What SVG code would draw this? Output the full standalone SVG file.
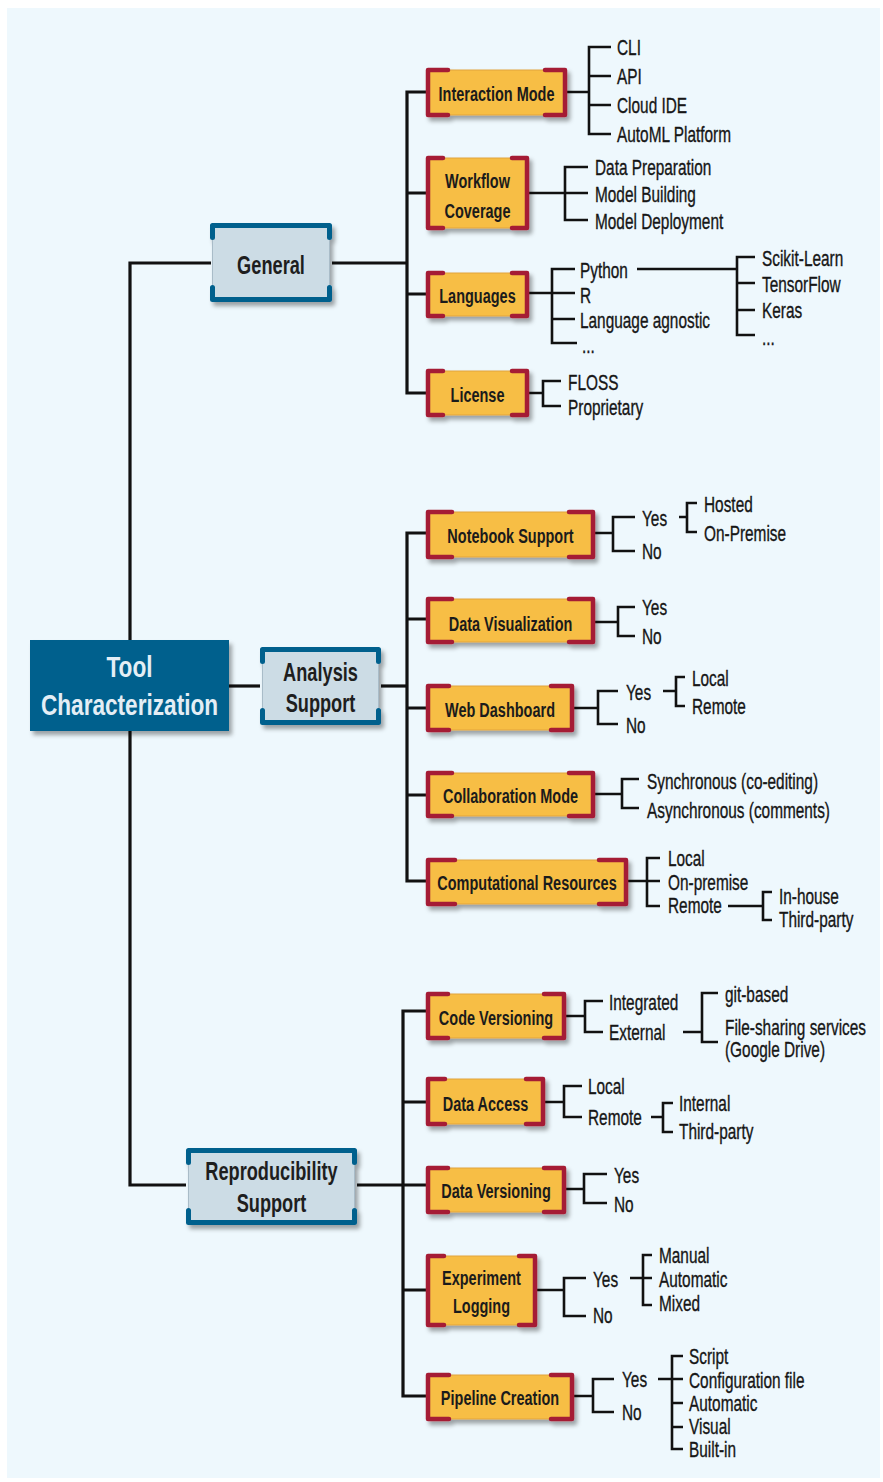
<svg xmlns="http://www.w3.org/2000/svg" width="883" height="1482" viewBox="0 0 883 1482">
<defs>
<filter id="sh" x="-10%" y="-10%" width="130%" height="140%">
<feDropShadow dx="3" dy="4" stdDeviation="2" flood-color="#000" flood-opacity="0.35"/>
</filter>
<style>
text{font-family:"Liberation Sans",Arial,sans-serif}
.lf{font-size:22px;fill:#161616;stroke:#161616;stroke-width:0.35}
.on{font-size:21px;font-weight:bold;fill:#1b1b1b;text-anchor:middle}
.tp{font-size:26px;font-weight:bold;fill:#1e1e1e;text-anchor:middle}
.rt{font-size:29px;font-weight:bold;fill:#E4EEF5;text-anchor:middle}
.con path{fill:none;stroke:#111;stroke-width:2.6}
.con .m{stroke-width:3.2}
.ob{fill:#F7BE45;stroke:#E2A43E;stroke-width:1}
.or{fill:none;stroke:#A51D35;stroke-width:4.5;stroke-linejoin:round;stroke-linecap:round}
.bb{fill:#CCDCE5;stroke:#A9BCC8;stroke-width:1}
.bl{fill:none;stroke:#00608D;stroke-width:5;stroke-linecap:round;stroke-linejoin:round}
</style>
</defs>
<rect x="7" y="8" width="873" height="1470" fill="#EEF8FD"/>

<g id="connectors" class="con">
<path class="m" d="M211,263H130V1185H186"/>
<path class="m" d="M229,686H260"/>
<path class="m" d="M332,263H407"/>
<path class="m" d="M427,92H407V393H427M407,193H427M407,294H427"/>
<path d="M567,92H589M611,47H589V134H611M589,76H611M589,105H611"/>
<path d="M529,193H565M588,167H565V220H588M565,193H588"/>
<path d="M529,293H552M575,269H552V343H577M552,293H575M552,319H575"/>
<path d="M637,269H737M755,257H737V335H755M737,283H755M737,310H755"/>
<path d="M529,393H543M561,381H543V406H561"/>

<path class="m" d="M381,686H407"/>
<path class="m" d="M427,533H407V881H427M407,619H427M407,708H427M407,795H427"/>
<path d="M595,533H613M635,517H613V551H635"/>
<path d="M679,517H687M697,503H687V532H697"/>
<path d="M595,622H618M635,607H618V636H635"/>
<path d="M574,708H598M618,691H598V724H618"/>
<path d="M663,691H676M685,677H676V706H685"/>
<path d="M595,794H622M639,779H622V808H639"/>
<path d="M624,881H647M660,858H647V906H660M647,881H660"/>
<path d="M728,906H763M772,892H763V920H772"/>

<path class="m" d="M357,1185H427"/>
<path class="m" d="M427,1011H403V1396H427M403,1102H427M403,1290H427"/>
<path d="M566,1016H585M603,1001H585V1032H603"/>
<path d="M683,1032H702M718,993H702V1042H718"/>
<path d="M545,1102H564M582,1086H564V1117H582"/>
<path d="M651,1117H663M673,1103H663V1132H673"/>
<path d="M566,1189H584M607,1174H584V1203H607"/>
<path d="M537,1290H564M586,1278H564V1316H586"/>
<path d="M630,1278H643M652,1255H643V1305H652M643,1278H652"/>
<path d="M574,1396H593M614,1379H593V1412H614"/>
<path d="M658,1379H672M683,1356H672V1449H683M672,1379H683M672,1403H683M672,1427H683"/>
</g>

<g id="root">
<rect x="30" y="640" width="199" height="91" fill="#00608D" filter="url(#sh)"/>
<text class="rt" transform="translate(129.5,677) scale(.78,1)">Tool</text>
<text class="rt" transform="translate(129.5,715) scale(.78,1)">Characterization</text>
</g>

<g id="general">
<g filter="url(#sh)"><rect class="bb" x="212.5" y="225.5" width="117" height="74"/>
<path class="bl" d="M212.5,237.5V225.5H329.5V237.5M212.5,287.5V299.5H329.5V287.5"/></g>
<text class="tp" transform="translate(271,274) scale(.70,1)">General</text>
</g>

<g id="analysis">
<g filter="url(#sh)"><rect class="bb" x="262.5" y="649.5" width="116" height="73"/>
<path class="bl" d="M262.5,661.5V649.5H378.5V661.5M262.5,710.5V722.5H378.5V710.5"/></g>
<text class="tp" transform="translate(320.5,681) scale(.70,1)">Analysis</text>
<text class="tp" transform="translate(320.5,712) scale(.70,1)">Support</text>
</g>

<g id="reproducibility">
<g filter="url(#sh)"><rect class="bb" x="188.5" y="1150.5" width="166" height="72"/>
<path class="bl" d="M188.5,1162.5V1150.5H354.5V1162.5M188.5,1210.5V1222.5H354.5V1210.5"/></g>
<text class="tp" transform="translate(271.5,1180) scale(.70,1)">Reproducibility</text>
<text class="tp" transform="translate(271.5,1212) scale(.70,1)">Support</text>
</g>

<g id="interaction-mode">
<g filter="url(#sh)"><rect class="ob" x="428" y="70" width="137" height="45"/>
<path class="or" d="M448,70H428V115H448M545,70H565V115H545"/></g>
<text class="on" transform="translate(496.5,101) scale(.69,1)">Interaction Mode</text>
<text class="lf" transform="translate(617,55) scale(.70,1)">CLI</text>
<text class="lf" transform="translate(617,84) scale(.70,1)">API</text>
<text class="lf" transform="translate(617,113) scale(.70,1)">Cloud IDE</text>
<text class="lf" transform="translate(617,142) scale(.70,1)">AutoML Platform</text>
</g>

<g id="workflow-coverage">
<g filter="url(#sh)"><rect class="ob" x="428" y="158" width="99" height="70"/>
<path class="or" d="M443,158H428V228H443M512,158H527V228H512"/></g>
<text class="on" transform="translate(477.5,188) scale(.69,1)">Workflow</text>
<text class="on" transform="translate(477.5,218) scale(.69,1)">Coverage</text>
<text class="lf" transform="translate(595,175) scale(.70,1)">Data Preparation</text>
<text class="lf" transform="translate(595,202) scale(.70,1)">Model Building</text>
<text class="lf" transform="translate(595,229) scale(.70,1)">Model Deployment</text>
</g>

<g id="languages">
<g filter="url(#sh)"><rect class="ob" x="428" y="273" width="99" height="43"/>
<path class="or" d="M443,273H428V316H443M512,273H527V316H512"/></g>
<text class="on" transform="translate(477.5,303) scale(.69,1)">Languages</text>
<text class="lf" transform="translate(580,278) scale(.70,1)">Python</text>
<text class="lf" transform="translate(580,303) scale(.70,1)">R</text>
<text class="lf" transform="translate(580,328) scale(.70,1)">Language agnostic</text>
<text class="lf" transform="translate(582,353) scale(.70,1)">...</text>
<text class="lf" transform="translate(762,266) scale(.70,1)">Scikit-Learn</text>
<text class="lf" transform="translate(762,292) scale(.70,1)">TensorFlow</text>
<text class="lf" transform="translate(762,318) scale(.70,1)">Keras</text>
<text class="lf" transform="translate(762,345) scale(.70,1)">...</text>
</g>

<g id="license">
<g filter="url(#sh)"><rect class="ob" x="428" y="371" width="99" height="44"/>
<path class="or" d="M443,371H428V415H443M512,371H527V415H512"/></g>
<text class="on" transform="translate(477.5,402) scale(.69,1)">License</text>
<text class="lf" transform="translate(568,390) scale(.70,1)">FLOSS</text>
<text class="lf" transform="translate(568,415) scale(.70,1)">Proprietary</text>
</g>

<g id="notebook-support">
<g filter="url(#sh)"><rect class="ob" x="428" y="512" width="165" height="45"/>
<path class="or" d="M452,512H428V557H452M569,512H593V557H569"/></g>
<text class="on" transform="translate(510.5,543) scale(.69,1)">Notebook Support</text>
<text class="lf" transform="translate(642,526) scale(.70,1)">Yes</text>
<text class="lf" transform="translate(642,559) scale(.70,1)">No</text>
<text class="lf" transform="translate(704,512) scale(.70,1)">Hosted</text>
<text class="lf" transform="translate(704,541) scale(.70,1)">On-Premise</text>
</g>

<g id="data-visualization">
<g filter="url(#sh)"><rect class="ob" x="428" y="599" width="165" height="43"/>
<path class="or" d="M452,599H428V642H452M569,599H593V642H569"/></g>
<text class="on" transform="translate(510.5,631) scale(.69,1)">Data Visualization</text>
<text class="lf" transform="translate(642,615) scale(.70,1)">Yes</text>
<text class="lf" transform="translate(642,644) scale(.70,1)">No</text>
</g>

<g id="web-dashboard">
<g filter="url(#sh)"><rect class="ob" x="428" y="686" width="144" height="44"/>
<path class="or" d="M449,686H428V730H449M551,686H572V730H551"/></g>
<text class="on" transform="translate(500,717) scale(.69,1)">Web Dashboard</text>
<text class="lf" transform="translate(626,700) scale(.70,1)">Yes</text>
<text class="lf" transform="translate(626,733) scale(.70,1)">No</text>
<text class="lf" transform="translate(692,686) scale(.70,1)">Local</text>
<text class="lf" transform="translate(692,714) scale(.70,1)">Remote</text>
</g>

<g id="collaboration-mode">
<g filter="url(#sh)"><rect class="ob" x="428" y="773" width="165" height="43"/>
<path class="or" d="M452,773H428V816H452M569,773H593V816H569"/></g>
<text class="on" transform="translate(510.5,803) scale(.69,1)">Collaboration Mode</text>
<text class="lf" transform="translate(647,789) scale(.70,1)">Synchronous (co-editing)</text>
<text class="lf" transform="translate(647,818) scale(.70,1)">Asynchronous (comments)</text>
</g>

<g id="computational-resources">
<g filter="url(#sh)"><rect class="ob" x="428" y="860" width="198" height="44"/>
<path class="or" d="M455,860H428V904H455M599,860H626V904H599"/></g>
<text class="on" transform="translate(527,890) scale(.69,1)">Computational Resources</text>
<text class="lf" transform="translate(668,866) scale(.70,1)">Local</text>
<text class="lf" transform="translate(668,890) scale(.70,1)">On-premise</text>
<text class="lf" transform="translate(668,913) scale(.70,1)">Remote</text>
<text class="lf" transform="translate(779,904) scale(.70,1)">In-house</text>
<text class="lf" transform="translate(779,927) scale(.70,1)">Third-party</text>
</g>

<g id="code-versioning">
<g filter="url(#sh)"><rect class="ob" x="428" y="994" width="136" height="44"/>
<path class="or" d="M448,994H428V1038H448M544,994H564V1038H544"/></g>
<text class="on" transform="translate(496,1025) scale(.69,1)">Code Versioning</text>
<text class="lf" transform="translate(609,1010) scale(.70,1)">Integrated</text>
<text class="lf" transform="translate(609,1040) scale(.70,1)">External</text>
<text class="lf" transform="translate(725,1002) scale(.70,1)">git-based</text>
<text class="lf" transform="translate(725,1035) scale(.70,1)">File-sharing services</text>
<text class="lf" transform="translate(725,1057) scale(.70,1)">(Google Drive)</text>
</g>

<g id="data-access">
<g filter="url(#sh)"><rect class="ob" x="428" y="1079" width="115" height="45"/>
<path class="or" d="M445,1079H428V1124H445M526,1079H543V1124H526"/></g>
<text class="on" transform="translate(485.5,1111) scale(.69,1)">Data Access</text>
<text class="lf" transform="translate(588,1094) scale(.70,1)">Local</text>
<text class="lf" transform="translate(588,1125) scale(.70,1)">Remote</text>
<text class="lf" transform="translate(679,1111) scale(.70,1)">Internal</text>
<text class="lf" transform="translate(679,1139) scale(.70,1)">Third-party</text>
</g>

<g id="data-versioning">
<g filter="url(#sh)"><rect class="ob" x="428" y="1168" width="136" height="44"/>
<path class="or" d="M448,1168H428V1212H448M544,1168H564V1212H544"/></g>
<text class="on" transform="translate(496,1198) scale(.69,1)">Data Versioning</text>
<text class="lf" transform="translate(614,1183) scale(.70,1)">Yes</text>
<text class="lf" transform="translate(614,1212) scale(.70,1)">No</text>
</g>

<g id="experiment-logging">
<g filter="url(#sh)"><rect class="ob" x="428" y="1256" width="107" height="69"/>
<path class="or" d="M444,1256H428V1325H444M519,1256H535V1325H519"/></g>
<text class="on" transform="translate(481.5,1285) scale(.69,1)">Experiment</text>
<text class="on" transform="translate(481.5,1313) scale(.69,1)">Logging</text>
<text class="lf" transform="translate(593,1287) scale(.70,1)">Yes</text>
<text class="lf" transform="translate(593,1323) scale(.70,1)">No</text>
<text class="lf" transform="translate(659,1263) scale(.70,1)">Manual</text>
<text class="lf" transform="translate(659,1287) scale(.70,1)">Automatic</text>
<text class="lf" transform="translate(659,1311) scale(.70,1)">Mixed</text>
</g>

<g id="pipeline-creation">
<g filter="url(#sh)"><rect class="ob" x="428" y="1375" width="144" height="44"/>
<path class="or" d="M449,1375H428V1419H449M551,1375H572V1419H551"/></g>
<text class="on" transform="translate(500,1405) scale(.69,1)">Pipeline Creation</text>
<text class="lf" transform="translate(622,1387) scale(.70,1)">Yes</text>
<text class="lf" transform="translate(622,1420) scale(.70,1)">No</text>
<text class="lf" transform="translate(689,1364) scale(.70,1)">Script</text>
<text class="lf" transform="translate(689,1388) scale(.70,1)">Configuration file</text>
<text class="lf" transform="translate(689,1411) scale(.70,1)">Automatic</text>
<text class="lf" transform="translate(689,1434) scale(.70,1)">Visual</text>
<text class="lf" transform="translate(689,1457) scale(.70,1)">Built-in</text>
</g>
</svg>
